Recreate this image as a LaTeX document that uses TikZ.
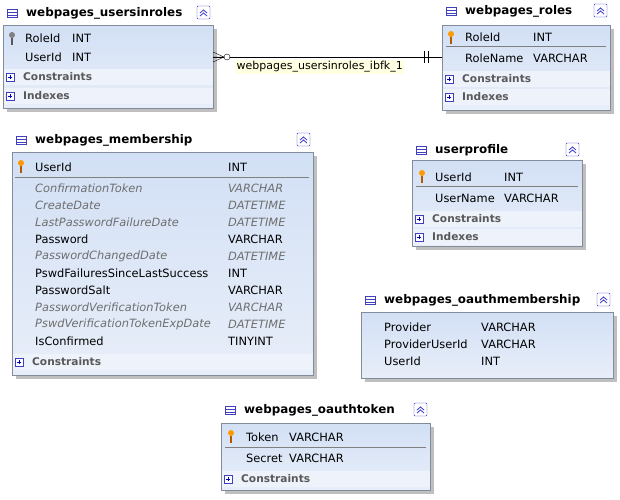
\documentclass[tikz,border=0pt]{standalone}
\usepackage{fontspec}
\setmainfont{DejaVu Sans}
\usetikzlibrary{positioning}
\definecolor{bodyblue}{RGB}{232,238,249}
\definecolor{bodytop}{RGB}{210,224,245}
\definecolor{stripe}{RGB}{238,242,250}
\definecolor{framegray}{RGB}{130,140,155}
\definecolor{noteyellow}{RGB}{255,255,225}
\definecolor{italgray}{RGB}{110,110,110}
\tikzset{
  tablebody/.style={draw=framegray, top color=bodytop, bottom color=bodyblue},
  shadowbox/.style={fill=black!25},
  title/.style={anchor=west, font=\fontsize{11.9}{14}\selectfont\bfseries, inner sep=0pt},
  field/.style={anchor=west, font=\fontsize{11.4}{13}\selectfont, inner sep=0pt},
  nullfield/.style={field, font=\fontsize{11.4}{13}\selectfont\itshape, text=italgray},
  group/.style={anchor=west, font=\fontsize{10.6}{12}\selectfont\bfseries, text=black!65, inner sep=0pt},
  rel/.style={draw=black, thin}
}
% \tablebox{x1}{y1}{x2}{y2}{title y}{title}
\newcommand{\tablebox}[6]{
  \fill[shadowbox] (#1+4,#2+4) rectangle (#3+4,#4+4);
  \path[tablebody] (#1,#2) rectangle (#3,#4);
  \draw[fill=white, draw=blue!50!gray] (#1+4,#5-4) rectangle (#1+14,#5+4);
  \draw[blue!50!gray] (#1+4,#5-1) -- (#1+14,#5-1) (#1+4,#5+2) -- (#1+14,#5+2);
  \node[title] at (#1+23,#5) {#6};
  \draw[fill=white, draw=blue!60!gray, rounded corners=1pt] (#3-16,#5-7) rectangle (#3-3,#5+6);
  \draw[blue!60!gray, thick] (#3-13,#5) -- (#3-9.5,#5-3) -- (#3-6,#5) (#3-13,#5+3) -- (#3-9.5,#5) -- (#3-6,#5+3);
}
% \grouprow{x1}{x2}{y}{label}
\newcommand{\grouprow}[4]{
  \fill[stripe] (#1+0.5,#3-8) rectangle (#2-0.5,#3+8);
  \draw[fill=white, draw=blue!50!gray] (#1+3,#3-4) rectangle (#1+11,#3+4);
  \draw[blue!70!black] (#1+5,#3) -- (#1+9,#3) (#1+7,#3-2) -- (#1+7,#3+2);
  \node[group] at (#1+20,#3) {#4};
}
\newcommand{\pkey}[2]{
  \fill[orange!80!yellow] (#1,#2-3) circle (3);
  \fill[orange!70!black] (#1-1,#2) rectangle (#1+1,#2+7);
}
\newcommand{\pkeygray}[2]{
  \fill[gray] (#1,#2-3) circle (3);
  \fill[gray!70!black] (#1-1,#2) rectangle (#1+1,#2+7);
}
\begin{document}
\begin{tikzpicture}[x=1pt, y=-1pt]
\useasboundingbox[fill=white] (0,0) rectangle (620,499);

% webpages_usersinroles
\tablebox{3}{25}{213}{108}{13}{webpages\_usersinroles}
\pkeygray{12}{38}
\node[field] (uirRole) at (25,38) {RoleId};
\node[field] at (72,38) {INT};
\node[field] (uirUser) at (25,57) {UserId};
\node[field] at (72,57) {INT};
\grouprow{3}{213}{77}{Constraints}
\grouprow{3}{213}{96}{Indexes}
\coordinate (uirEnd) at (213,57);

% webpages_roles
\tablebox{442}{25}{610}{110}{11}{webpages\_roles}
\pkey{451}{37}
\node[field] (rRole) at (465,37) {RoleId};
\node[field] at (533,37) {INT};
\draw[gray] (446,46) -- (606,46);
\node[field] at (465,58) {RoleName};
\node[field] at (533,58) {VARCHAR};
\grouprow{442}{610}{79}{Constraints}
\grouprow{442}{610}{97}{Indexes}
\coordinate (rEnd) at (442,57);

% relation
\draw[rel] (uirEnd) -- (rEnd);
\draw[rel] (uirEnd) -- (224,57) (213,52) -- (224,57) -- (213,62);
\draw[rel, fill=white] (227,57) circle (3);
\draw[rel] (424,51) -- (424,63) (428,51) -- (428,63);
\node[fill=noteyellow, font=\fontsize{11}{13}\selectfont, inner sep=1.5pt, anchor=west] (fk) at (235,67) {webpages\_usersinroles\_ibfk\_1};

% webpages_membership
\tablebox{12}{152}{313}{375}{140}{webpages\_membership}
\pkey{21}{166}
\node[field] at (35,167) {UserId};
\node[field] at (228,167) {INT};
\draw[gray] (15,177) -- (309,177);
\foreach \y/\n/\t/\s in {188/ConfirmationToken/VARCHAR/nullfield,
  205/CreateDate/DATETIME/nullfield,
  222/LastPasswordFailureDate/DATETIME/nullfield,
  239/Password/VARCHAR/field,
  256/PasswordChangedDate/DATETIME/nullfield,
  273/PswdFailuresSinceLastSuccess/INT/field,
  290/PasswordSalt/VARCHAR/field,
  307/PasswordVerificationToken/VARCHAR/nullfield,
  324/PswdVerificationTokenExpDate/DATETIME/nullfield,
  341/IsConfirmed/TINYINT/field}{
  \node[\s] at (35,\y) {\n};
  \node[\s] at (228,\y) {\t};
}
\grouprow{12}{313}{362}{Constraints}

% userprofile
\tablebox{412}{160}{582}{246}{150}{userprofile}
\pkey{422}{176}
\node[field] at (435,177) {UserId};
\node[field] at (504,177) {INT};
\draw[gray] (416,186) -- (578,186);
\node[field] at (435,198) {UserName};
\node[field] at (504,198) {VARCHAR};
\grouprow{412}{582}{219}{Constraints}
\grouprow{412}{582}{237}{Indexes}

% webpages_oauthmembership
\tablebox{361}{312}{613}{378}{300}{webpages\_oauthmembership}
\node[field] at (384,327) {Provider};
\node[field] at (481,327) {VARCHAR};
\node[field] at (384,344) {ProviderUserId};
\node[field] at (481,344) {VARCHAR};
\node[field] at (384,361) {UserId};
\node[field] at (481,361) {INT};

% webpages_oauthtoken
\tablebox{221}{423}{430}{490}{410}{webpages\_oauthtoken}
\pkey{231}{436}
\node[field] at (246,437) {Token};
\node[field] at (289,437) {VARCHAR};
\draw[gray] (225,447) -- (426,447);
\node[field] at (246,458) {Secret};
\node[field] at (289,458) {VARCHAR};
\grouprow{221}{430}{479}{Constraints}
\end{tikzpicture}
\end{document}
